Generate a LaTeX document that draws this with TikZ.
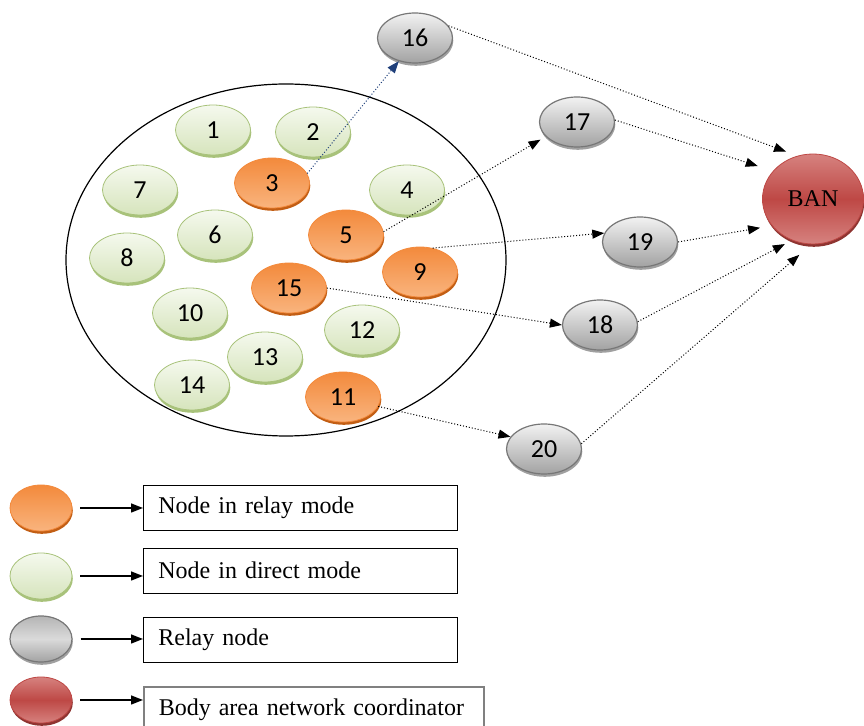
\documentclass[tikz,border=0pt]{standalone}
\usepackage{fontspec}
\setmainfont{Liberation Serif}
\newfontfamily\numfont{Carlito}
\usetikzlibrary{shapes.geometric,shadows,arrows.meta}

\definecolor{relayorange}{HTML}{F38A3C}
\definecolor{relaylight}{HTML}{F9B47E}
\definecolor{relayrim}{HTML}{C25E14}
\definecolor{directgreen}{HTML}{D6E4BC}
\definecolor{directlight}{HTML}{F5F9EE}
\definecolor{directrim}{HTML}{A8C27A}
\definecolor{greydark}{HTML}{A2A2A2}
\definecolor{greylight}{HTML}{F2F2F2}
\definecolor{greyrim}{HTML}{777777}
\definecolor{banred}{HTML}{BE4845}
\definecolor{banlight}{HTML}{D6827F}
\definecolor{banrim}{HTML}{8E3431}
\definecolor{linkblue}{HTML}{1F3F7A}

\tikzset{
  cell/.style={ellipse, inner sep=0pt, minimum width=37.5pt, minimum height=25pt,
    font=\numfont\fontsize{13}{15}\selectfont},
  relaymode/.style={cell, draw=relayorange, top color=relayorange, bottom color=relaylight,
    drop shadow={shadow xshift=0.4pt, shadow yshift=-1.4pt, fill=relayrim, opacity=1}},
  directmode/.style={cell, draw=directrim, top color=directlight, bottom color=directgreen,
    drop shadow={shadow xshift=0.4pt, shadow yshift=-1.4pt, fill=directrim, opacity=1}},
  relaynode/.style={cell, draw=greyrim, line width=0.6pt, top color=greylight, bottom color=greydark,
    drop shadow={shadow xshift=0.4pt, shadow yshift=-1.4pt, fill=greyrim!70, opacity=1}},
  coordinator/.style={cell, minimum width=50.5pt, minimum height=45pt, draw=banred,
    top color=banlight, bottom color=banlight, middle color=banred,
    font=\fontsize{12}{14}\selectfont,
    drop shadow={shadow xshift=0.4pt, shadow yshift=-1.4pt, fill=banrim, opacity=1}},
  keycell/.style={minimum width=31pt, minimum height=23pt},
  link/.style={densely dotted, line width=0.5pt, -{Triangle[length=6pt,width=4.5pt]}},
  keyarrow/.style={line width=0.7pt, -{Triangle[length=6pt,width=4.5pt]}, shorten <=4pt},
  keybox/.style={draw, rectangle, anchor=west, inner xsep=7.5pt, inner ysep=0pt,
    minimum height=22.5pt, text width=142pt, align=left, font=\fontsize{12}{14}\selectfont}
}

\begin{document}
\begin{tikzpicture}[x=0.5pt, y=-0.5pt]
\useasboundingbox (0,0) rectangle (864,726);

% body area
\node[draw, ellipse, line width=0.6pt, minimum width=220pt, minimum height=176pt] (body) at (286,260) {};

% sensor nodes
\node[directmode] (n1) at (213,130) {1};
\node[directmode] (n2) at (313,132) {2};
\node[relaymode] (n3) at (272,183) {3};
\node[directmode] (n4) at (407,190) {4};
\node[relaymode] (n5) at (346,235) {5};
\node[directmode] (n6) at (215,235) {6};
\node[directmode] (n7) at (140,190) {7};
\node[directmode] (n8) at (127,258) {8};
\node[relaymode] (n9) at (420,272) {9};
\node[directmode] (n10) at (190,313) {10};
\node[relaymode] (n11) at (343,397) {11};
\node[directmode] (n12) at (362,330) {12};
\node[directmode] (n13) at (265,357) {13};
\node[directmode] (n14) at (192,385) {14};
\node[relaymode] (n15) at (289,288) {15};

% relay nodes
\node[relaynode] (n16) at (415,38) {16};
\node[relaynode] (n17) at (577,122) {17};
\node[relaynode] (n18) at (600,325) {18};
\node[relaynode] (n19) at (640,242) {19};
\node[relaynode] (n20) at (544,449) {20};

% coordinator
\node[coordinator] (ban) at (813,199) {BAN};

% links
\draw[link, draw=linkblue] (n3.15) -- (n16.235);
\draw[link, shorten >=3pt] (n5.5) -- (n17.205);
\draw[link] (n9.62) -- (n19.166);
\draw[link] (n15.east) -- (n18.west);
\draw[link] (n11.-15) -- (n20.160);
\draw[link, shorten >=6pt] (n16.20) -- (ban.110);
\draw[link, shorten >=8pt] (n17.3) -- (ban.145);
\draw[link, shorten >=6pt] (n19.east) -- (ban.213);
\draw[link, shorten >=4pt] (n18.5) -- (ban.243);
\draw[link, shorten >=8pt] (n20.8) -- (ban.268);

% legend
\node[relaymode, keycell] (k1) at (41,508) {};
\node[directmode, keycell] (k2) at (41,576) {};
\node[relaynode, keycell, top color=greydark!80, bottom color=greydark, middle color=greylight!70!greydark] (k3) at (41,639) {};
\node[coordinator, keycell] (k4) at (41,700) {};

\node[keybox] (b1) at (143,507.5) {Node in relay mode};
\node[keybox] (b2) at (143,570.5) {Node in direct mode};
\node[keybox] (b3) at (143,639.5) {Relay node};
\node[keybox, draw=gray, line width=0.8pt, text width=155pt] (b4) at (143,709.5) {Body area network coordinator};

\draw[keyarrow] (k1.east) -- (k1.east -| b1.west);
\draw[keyarrow] (k2.east) -- (k2.east -| b2.west);
\draw[keyarrow] (k3.east) -- (k3.east -| b3.west);
\draw[keyarrow] (k4.east) -- (k4.east -| b4.west);
\end{tikzpicture}
\end{document}
